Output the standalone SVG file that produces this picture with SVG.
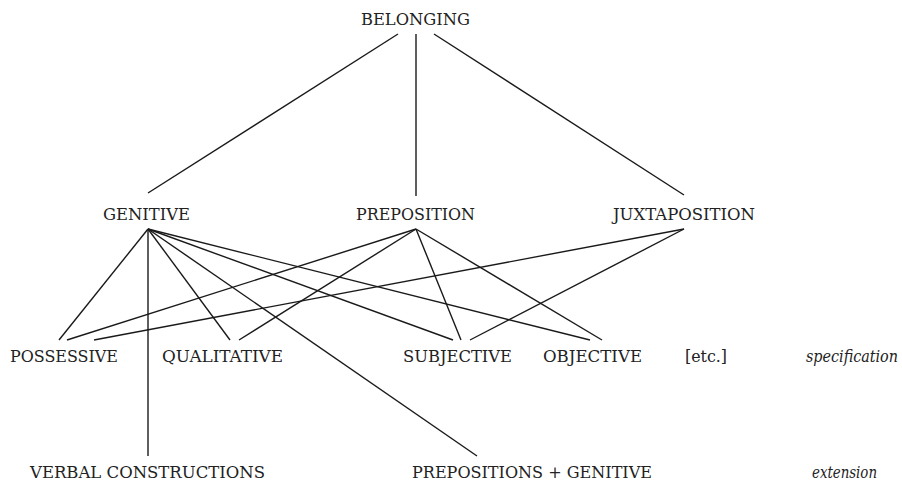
<svg xmlns="http://www.w3.org/2000/svg" width="902" height="481" viewBox="0 0 902 481">
<style>
text{font-family:'DejaVu Serif','Liberation Serif',serif;font-stretch:condensed;font-size:17.5px;fill:#222}
.it{font-style:italic;font-size:16px}
.c line{stroke:#1a1a1a;stroke-width:1.4;fill:none}
</style>
<rect width="902" height="481" fill="#fff"/>
<g class="c" id="connectors">
<line x1="398" y1="34" x2="148" y2="193"/>
<line x1="416" y1="34" x2="416" y2="196"/>
<line x1="434" y1="34" x2="684" y2="195"/>
<line x1="148" y1="229" x2="59" y2="340"/>
<line x1="148" y1="229" x2="148" y2="456"/>
<line x1="148" y1="229" x2="230" y2="340"/>
<line x1="148" y1="229" x2="477" y2="456"/>
<line x1="148" y1="229" x2="453" y2="340"/>
<line x1="148" y1="229" x2="590" y2="340"/>
<line x1="416" y1="229" x2="67" y2="340"/>
<line x1="416" y1="229" x2="239" y2="340"/>
<line x1="416" y1="229" x2="461" y2="340"/>
<line x1="416" y1="229" x2="602" y2="340"/>
<line x1="684" y1="229" x2="94" y2="340"/>
<line x1="684" y1="229" x2="470" y2="340"/>
</g>
<g id="belonging"><text x="361" y="25" textLength="109" lengthAdjust="spacingAndGlyphs">BELONGING</text></g>
<g id="genitive"><text x="103" y="220" textLength="87" lengthAdjust="spacingAndGlyphs">GENITIVE</text></g>
<g id="preposition"><text x="356" y="220" textLength="119" lengthAdjust="spacingAndGlyphs">PREPOSITION</text></g>
<g id="juxtaposition"><text x="613" y="220" textLength="142" lengthAdjust="spacingAndGlyphs">JUXTAPOSITION</text></g>
<g id="possessive"><text x="10" y="362" textLength="108" lengthAdjust="spacingAndGlyphs">POSSESSIVE</text></g>
<g id="qualitative"><text x="162" y="362" textLength="121" lengthAdjust="spacingAndGlyphs">QUALITATIVE</text></g>
<g id="subjective"><text x="403" y="362" textLength="109" lengthAdjust="spacingAndGlyphs">SUBJECTIVE</text></g>
<g id="objective"><text x="543" y="362" textLength="99" lengthAdjust="spacingAndGlyphs">OBJECTIVE</text></g>
<g id="etc"><text x="685" y="362" textLength="42" lengthAdjust="spacingAndGlyphs">[etc.]</text></g>
<g id="specification"><text class="it" x="806" y="362" textLength="92" lengthAdjust="spacingAndGlyphs">specification</text></g>
<g id="verbal"><text x="30" y="478" textLength="235" lengthAdjust="spacingAndGlyphs">VERBAL CONSTRUCTIONS</text></g>
<g id="prepgen"><text x="412" y="478" textLength="240" lengthAdjust="spacingAndGlyphs">PREPOSITIONS + GENITIVE</text></g>
<g id="extension"><text class="it" x="812" y="478" textLength="65" lengthAdjust="spacingAndGlyphs">extension</text></g>
</svg>
